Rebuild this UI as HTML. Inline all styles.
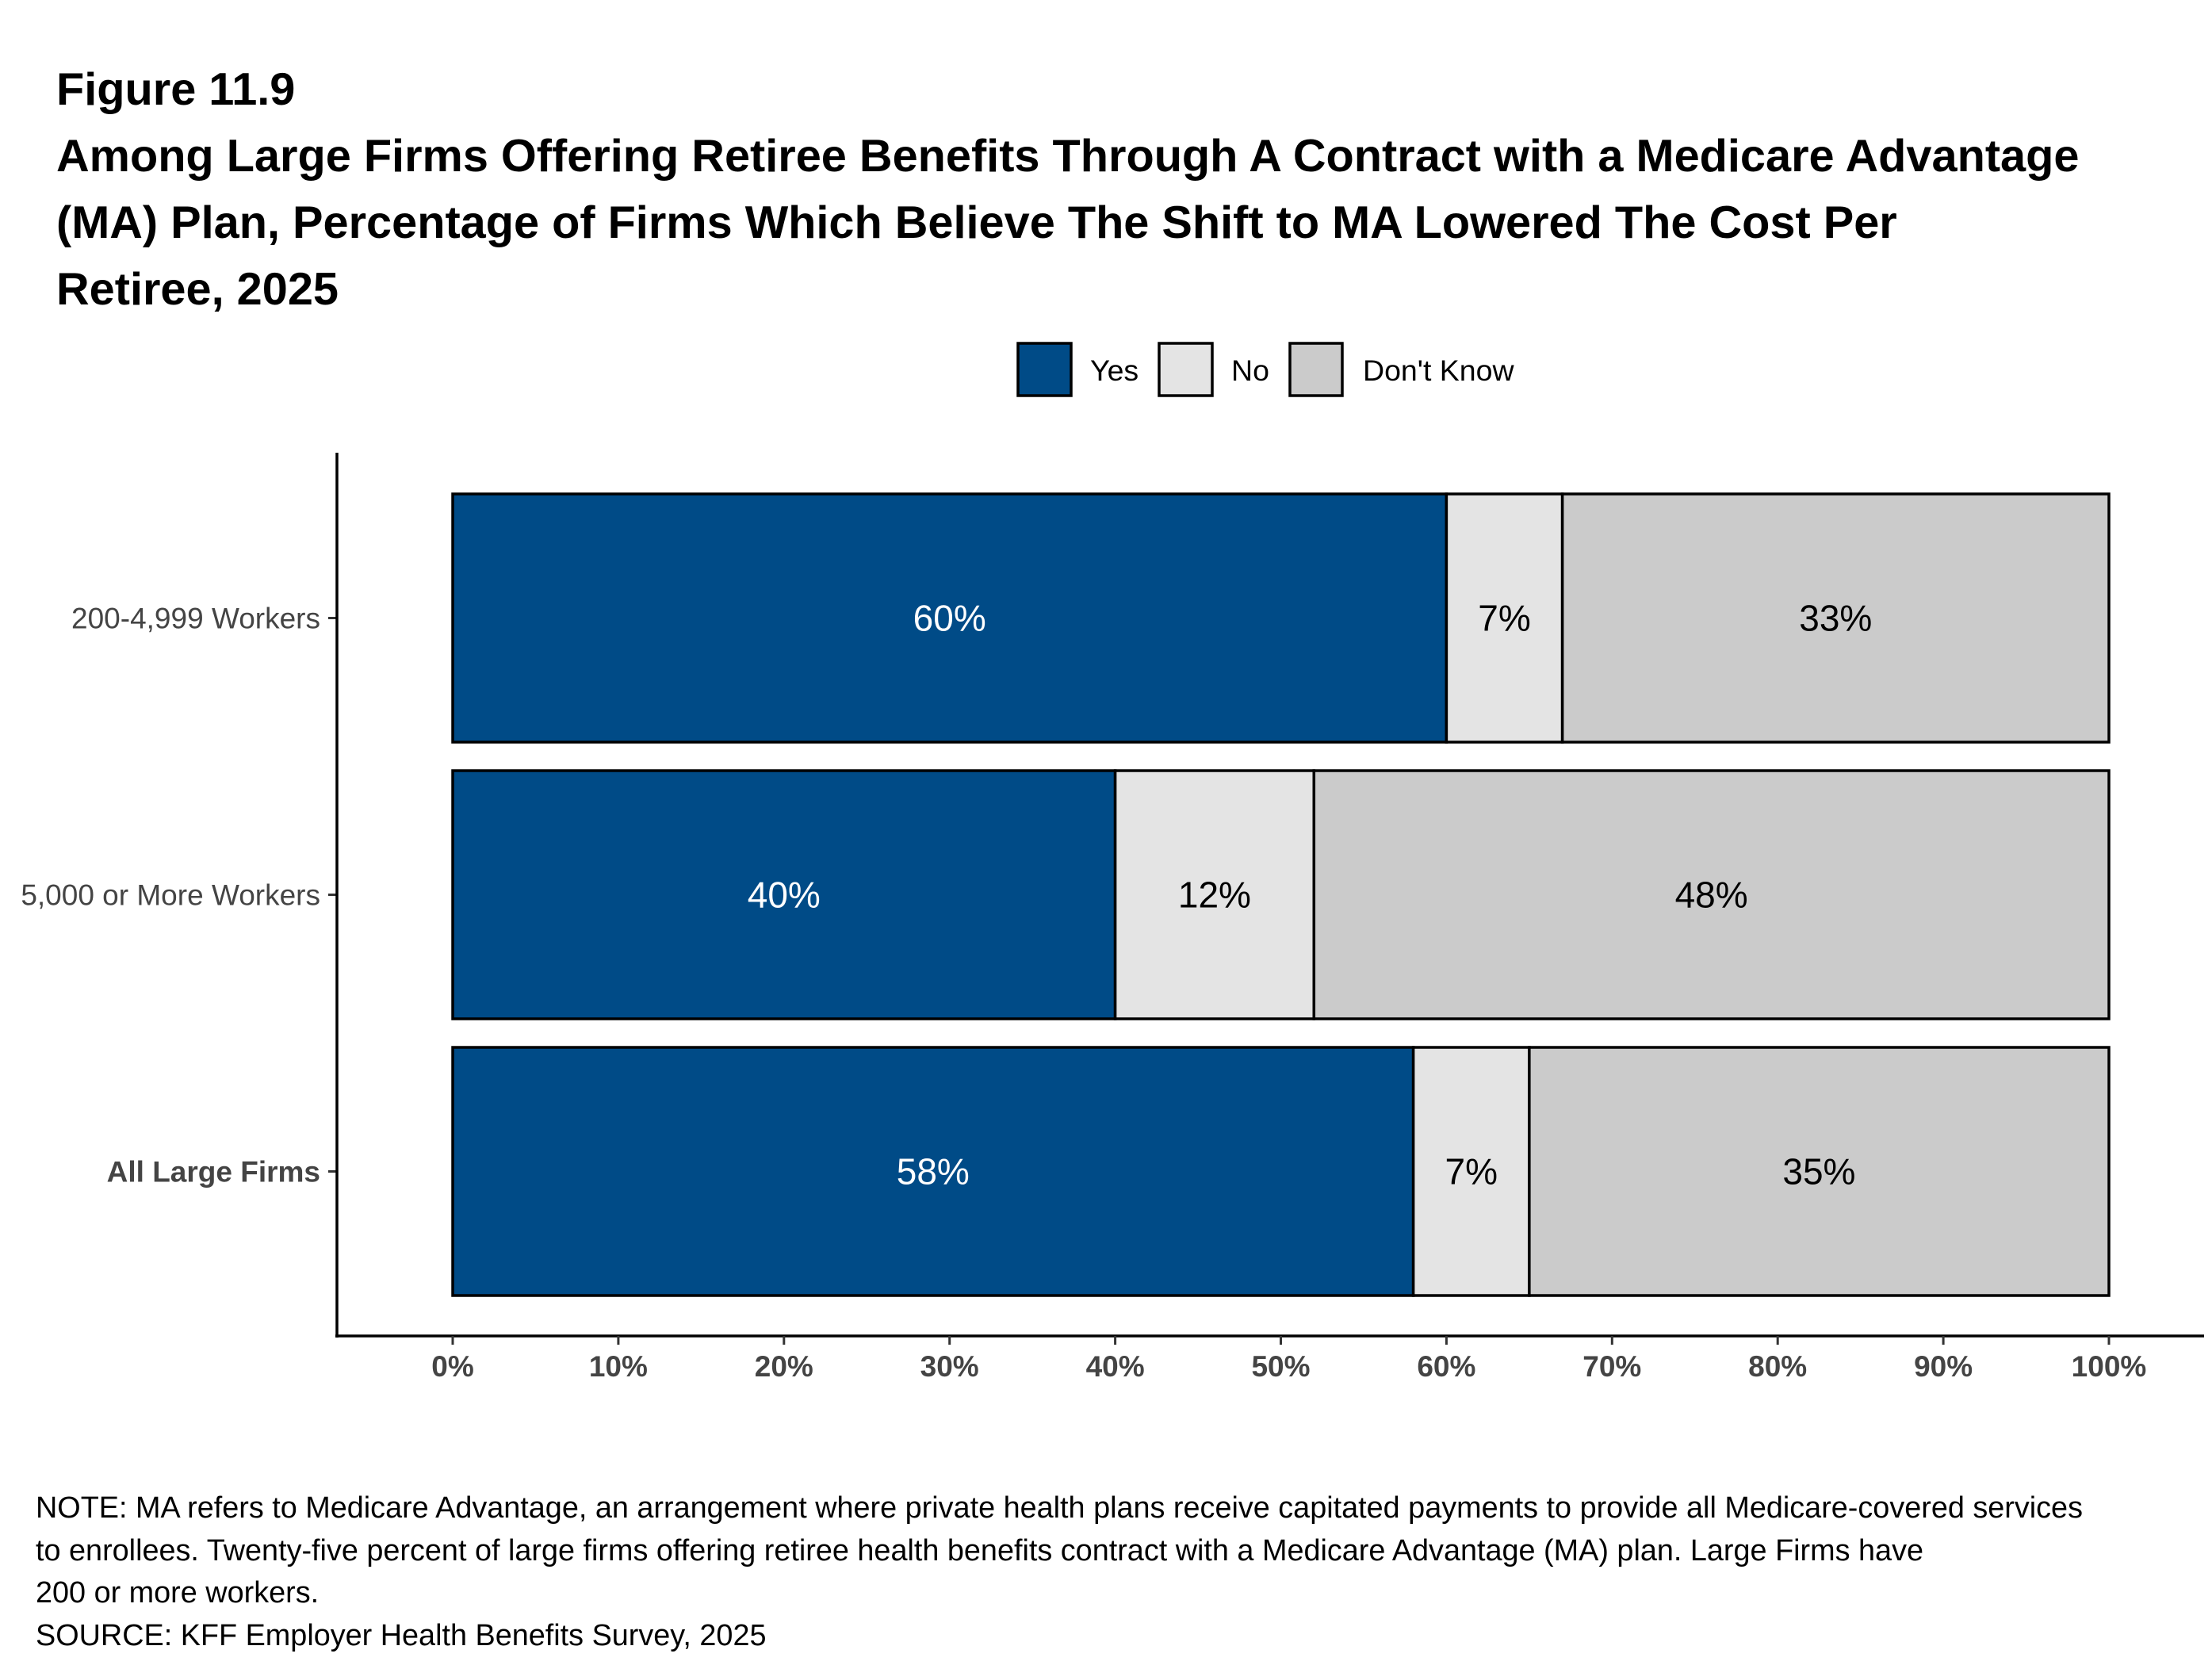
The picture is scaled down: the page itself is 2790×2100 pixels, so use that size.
<!DOCTYPE html>
<html><head><meta charset="utf-8"><style>
body{margin:0;background:#fff;font-family:"Liberation Sans",Arial,sans-serif}
svg{display:block}
</style></head><body>
<svg id="c" width="2790" height="2100" xmlns="http://www.w3.org/2000/svg">
<g font-weight="bold" font-size="57.7" fill="#000">
<text x="71" y="132">Figure 11.9</text>
<text x="71" y="216">Among Large Firms Offering Retiree Benefits Through A Contract with a Medicare Advantage</text>
<text x="71" y="300">(MA) Plan, Percentage of Firms Which Believe The Shift to MA Lowered The Cost Per</text>
<text x="71" y="384">Retiree, 2025</text>
</g>
<g font-size="37.5">
<rect x="1284" y="433" width="67" height="66" fill="#004B87" stroke="#000" stroke-width="3.5"/>
<text x="1375" y="480">Yes</text>
<rect x="1462" y="433" width="67" height="66" fill="#E4E4E4" stroke="#000" stroke-width="3.5"/>
<text x="1553" y="480">No</text>
<rect x="1627" y="433" width="66" height="66" fill="#CBCBCB" stroke="#000" stroke-width="3.5"/>
<text x="1719" y="480">Don't Know</text>
</g>
<g id="plot"></g>
<g font-size="37.8" fill="#000">
<text x="45" y="1914">NOTE: MA refers to Medicare Advantage, an arrangement where private health plans receive capitated payments to provide all Medicare-covered services</text>
<text x="45" y="1968">to enrollees.  Twenty-five percent of large firms offering retiree health benefits contract with a Medicare Advantage (MA) plan.  Large Firms have</text>
<text x="45" y="2021">200 or more workers.</text>
<text x="45" y="2075">SOURCE: KFF Employer Health Benefits Survey, 2025</text>
</g>
</svg>
<script>
const categories = ["200-4,999 Workers", "5,000 or More Workers", "All Large Firms"];
const yesVals = [60, 40, 58];
const noVals = [7, 12, 7];
const dkVals = [33, 48, 35];
const ticks = [0,10,20,30,40,50,60,70,80,90,100];

const NS="http://www.w3.org/2000/svg";
const g=document.getElementById('plot');
const x0=571,x1=2660;
const X=v=>x0+(x1-x0)*v/100;
const rowTop=[623,972,1321], barH=313;
function mk(t,a){const e=document.createElementNS(NS,t);for(const k in a)e.setAttribute(k,a[k]);g.appendChild(e);return e;}
const series=[{v:yesVals,f:"#004B87",tc:"#fff",n:"yes"},{v:noVals,f:"#E4E4E4",tc:"#000",n:"no"},{v:dkVals,f:"#CBCBCB",tc:"#000",n:"dont-know"}];
categories.forEach((c,i)=>{
  let acc=0;const y=rowTop[i];
  series.forEach(s=>{
    const v=s.v[i];
    const r=mk('rect',{x:X(acc),y:y,width:X(acc+v)-X(acc),height:barH,fill:s.f,stroke:'#000','stroke-width':3.5});
    
    
    const t=mk('text',{x:(X(acc)+X(acc+v))/2,y:y+barH/2+16,'text-anchor':'middle','font-size':46,fill:s.tc});
    
    
    t.textContent=v+'%';
    acc+=v;
  });
  const cy=y+barH/2;
  const l=mk('text',{x:404,y:cy+13,'text-anchor':'end','font-size':37,fill:'#444','font-weight':i==2?'bold':'normal'});
  
  
  l.textContent=c;
  mk('line',{x1:414,x2:425,y1:cy,y2:cy,stroke:'#333','stroke-width':3});
});
const ya=mk('line',{x1:425,x2:425,y1:571,y2:1687,stroke:'#000','stroke-width':3.5});


const xa=mk('line',{x1:423,x2:2780,y1:1685,y2:1685,stroke:'#000','stroke-width':3.5});


ticks.forEach(t=>{
  mk('line',{x1:X(t),x2:X(t),y1:1685,y2:1696,stroke:'#333','stroke-width':3});
  const e=mk('text',{x:X(t),y:1736,'text-anchor':'middle','font-size':37,'font-weight':'bold',fill:'#444'});
  
  
  e.textContent=t+'%';
});
</script>
</body></html>
